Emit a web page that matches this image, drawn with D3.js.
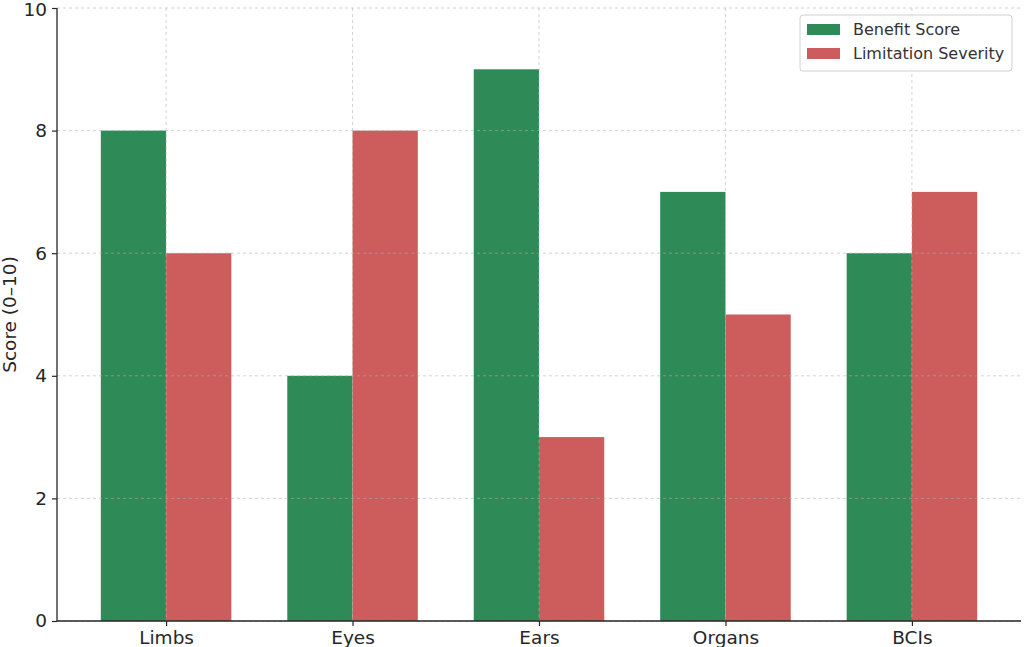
<!DOCTYPE html>
<html><head><meta charset="utf-8">
<script src="https://cdn.jsdelivr.net/npm/d3@7"></script>
<style>body{margin:0;background:#fff}svg{display:block}text{font-family:"DejaVu Sans",sans-serif}</style>
</head><body><svg id="c" width="1024" height="647"></svg>
<script>
const categories = ["Limbs","Eyes","Ears","Organs","BCIs"];
const benefit = [8,4,9,7,6];
const limitation = [6,8,3,5,7];
const yTicks = [0,2,4,6,8,10];
const seriesNames = ["Benefit Score","Limitation Severity"];
const colors = ["#2e8b57","#cd5c5c"];

const svg = d3.select("#c");
const L=57, R=1021, T=8, B=621;
const x = d3.scaleLinear().domain([-0.585,4.585]).range([L,R]);
const y = d3.scaleLinear().domain([0,10]).range([B,T]);
const w = 0.35;

const series=[benefit,limitation];
series.forEach((vals,si)=>{
  svg.append("g").selectAll("rect").data(vals).join("rect")
    .attr("x",(d,i)=>x(si===0? i-w : i))
    .attr("width",x(w)-x(0))
    .attr("y",d=>y(d)).attr("height",d=>y(0)-y(d))
    .attr("fill",colors[si]);
});

// grid on top
const g = svg.append("g").attr("stroke","#b0b0b0").attr("stroke-dasharray","3,3").attr("stroke-width",0.8).attr("opacity",0.7);
yTicks.forEach(t=>g.append("line").attr("x1",L).attr("x2",R).attr("y1",y(t)).attr("y2",y(t)));
categories.forEach((c,i)=>g.append("line").attr("x1",x(i)).attr("x2",x(i)).attr("y1",T).attr("y2",B));

// axes
const ya = svg.append("g").attr("transform",`translate(${L},0)`)
  .call(d3.axisLeft(y).tickValues(yTicks).tickSize(5).tickPadding(5).tickFormat(d3.format("d")));
const xa = svg.append("g").attr("transform",`translate(0,${B})`)
  .call(d3.axisBottom(x).tickValues(d3.range(categories.length)).tickSize(5).tickPadding(5).tickFormat(i=>categories[i]));
[ya,xa].forEach(a=>{
  a.selectAll("text").attr("font-size",18.5).attr("fill","#262626").style("font-family","DejaVu Sans");
  a.selectAll("line").attr("stroke","#262626").attr("stroke-width",1.2);
  a.select(".domain").attr("stroke","#262626").attr("stroke-width",1.3);
});
ya.select(".domain").attr("d",`M0,${B}V${T}`);
xa.select(".domain").attr("d",`M${L},0H${R}`);
ya.selectAll("text").filter(d=>d===10).attr("dy","0.4em");

svg.append("text").attr("transform",`translate(16,${(T+B)/2}) rotate(-90)`)
  .attr("text-anchor","middle").attr("font-size",18.5).attr("fill","#262626").text("Score (0–10)");

// legend
const lg = svg.append("g").attr("transform","translate(800,15)");
lg.append("rect").attr("width",212).attr("height",56).attr("rx",3).attr("fill","#fff").attr("fill-opacity",0.8).attr("stroke","#d0d0d0");
seriesNames.forEach((n,i)=>{
  lg.append("rect").attr("x",7).attr("y",9+i*24).attr("width",33).attr("height",11).attr("fill",colors[i]);
  lg.append("text").attr("x",53).attr("y",20+i*24).attr("font-size",16).attr("fill","#333").text(n);
});
</script></body></html>
